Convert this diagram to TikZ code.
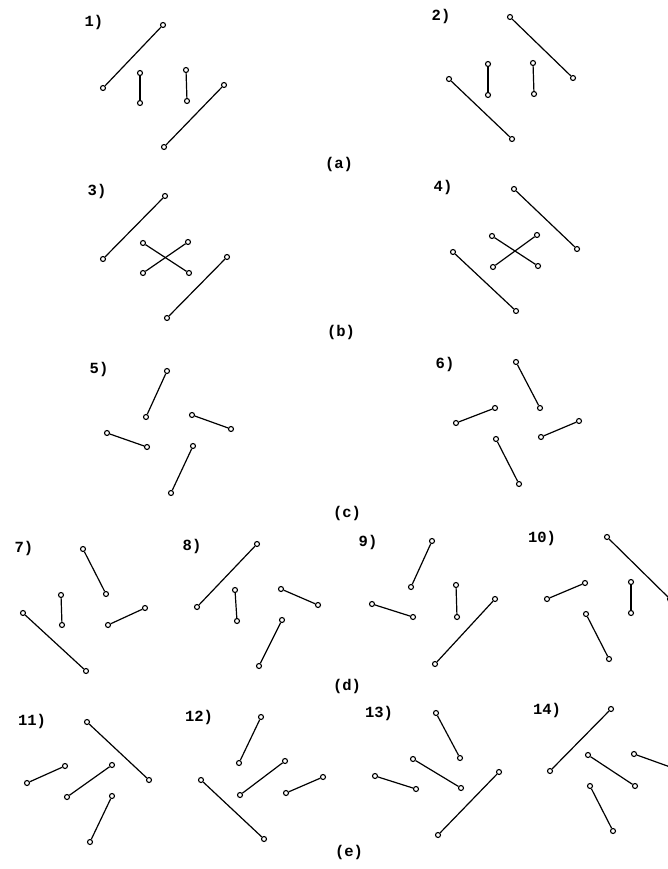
\documentclass[tikz,border=0pt]{standalone}
\usepackage{fontspec}
\newfontfamily\typefont{Liberation Mono}
\usepackage{tikz}

\begin{document}
\begin{tikzpicture}[x=1pt, y=-1pt,
    endpt/.style={draw, circle, fill=white, inner sep=0pt, minimum size=5pt, line width=1.1pt},
    stick/.style={line width=1.2pt},
    lbl/.style={font=\typefont\bfseries\fontsize{15.5}{18}\selectfont}]
        \useasboundingbox (0,0) rectangle (667,869);

        % Row (a)
        \node[lbl] (l1) at (94,22) {1)};
        \node[endpt] (p1a1) at (103,88) {}; \node[endpt] (p1a2) at (163,25) {}; \draw[stick] (p1a1) -- (p1a2);
        \node[endpt] (p1b1) at (140,73) {}; \node[endpt] (p1b2) at (140,103) {}; \draw[stick] (p1b1) -- (p1b2);
        \node[endpt] (p1c1) at (186,70) {}; \node[endpt] (p1c2) at (187,101) {}; \draw[stick] (p1c1) -- (p1c2);
        \node[endpt] (p1d1) at (164,147) {}; \node[endpt] (p1d2) at (224,85) {}; \draw[stick] (p1d1) -- (p1d2);

        \node[lbl] (l2) at (441,16) {2)};
        \node[endpt] (p2a1) at (510,17) {}; \node[endpt] (p2a2) at (573,78) {}; \draw[stick] (p2a1) -- (p2a2);
        \node[endpt] (p2b1) at (488,64) {}; \node[endpt] (p2b2) at (488,95) {}; \draw[stick] (p2b1) -- (p2b2);
        \node[endpt] (p2c1) at (533,63) {}; \node[endpt] (p2c2) at (534,94) {}; \draw[stick] (p2c1) -- (p2c2);
        \node[endpt] (p2d1) at (449,79) {}; \node[endpt] (p2d2) at (512,139) {}; \draw[stick] (p2d1) -- (p2d2);

        \node[lbl] (ra) at (339,164) {(a)};

        % Row (b)
        \node[lbl] (l3) at (97,191) {3)};
        \node[endpt] (p3a1) at (103,259) {}; \node[endpt] (p3a2) at (165,196) {}; \draw[stick] (p3a1) -- (p3a2);
        \node[endpt] (p3b1) at (143,243) {}; \node[endpt] (p3b2) at (189,273) {}; \draw[stick] (p3b1) -- (p3b2);
        \node[endpt] (p3c1) at (188,242) {}; \node[endpt] (p3c2) at (143,273) {}; \draw[stick] (p3c1) -- (p3c2);
        \node[endpt] (p3d1) at (167,318) {}; \node[endpt] (p3d2) at (227,257) {}; \draw[stick] (p3d1) -- (p3d2);

        \node[lbl] (l4) at (443,187) {4)};
        \node[endpt] (p4a1) at (514,189) {}; \node[endpt] (p4a2) at (577,249) {}; \draw[stick] (p4a1) -- (p4a2);
        \node[endpt] (p4b1) at (492,236) {}; \node[endpt] (p4b2) at (538,266) {}; \draw[stick] (p4b1) -- (p4b2);
        \node[endpt] (p4c1) at (537,235) {}; \node[endpt] (p4c2) at (493,267) {}; \draw[stick] (p4c1) -- (p4c2);
        \node[endpt] (p4d1) at (453,252) {}; \node[endpt] (p4d2) at (516,311) {}; \draw[stick] (p4d1) -- (p4d2);

        \node[lbl] (rb) at (341,332) {(b)};

        % Row (c)
        \node[lbl] (l5) at (99,369) {5)};
        \node[endpt] (p5a1) at (167,371) {}; \node[endpt] (p5a2) at (146,417) {}; \draw[stick] (p5a1) -- (p5a2);
        \node[endpt] (p5b1) at (192,415) {}; \node[endpt] (p5b2) at (231,429) {}; \draw[stick] (p5b1) -- (p5b2);
        \node[endpt] (p5c1) at (107,433) {}; \node[endpt] (p5c2) at (147,447) {}; \draw[stick] (p5c1) -- (p5c2);
        \node[endpt] (p5d1) at (193,446) {}; \node[endpt] (p5d2) at (171,493) {}; \draw[stick] (p5d1) -- (p5d2);

        \node[lbl] (l6) at (445,364) {6)};
        \node[endpt] (p6a1) at (516,362) {}; \node[endpt] (p6a2) at (540,408) {}; \draw[stick] (p6a1) -- (p6a2);
        \node[endpt] (p6b1) at (456,423) {}; \node[endpt] (p6b2) at (495,408) {}; \draw[stick] (p6b1) -- (p6b2);
        \node[endpt] (p6c1) at (496,439) {}; \node[endpt] (p6c2) at (519,484) {}; \draw[stick] (p6c1) -- (p6c2);
        \node[endpt] (p6d1) at (541,437) {}; \node[endpt] (p6d2) at (579,421) {}; \draw[stick] (p6d1) -- (p6d2);

        \node[lbl] (rc) at (347,513) {(c)};

        % Row (d)
        \node[lbl] (l7) at (24,548) {7)};
        \node[endpt] (p7a1) at (83,549) {}; \node[endpt] (p7a2) at (106,594) {}; \draw[stick] (p7a1) -- (p7a2);
        \node[endpt] (p7b1) at (61,595) {}; \node[endpt] (p7b2) at (62,625) {}; \draw[stick] (p7b1) -- (p7b2);
        \node[endpt] (p7c1) at (23,613) {}; \node[endpt] (p7c2) at (86,671) {}; \draw[stick] (p7c1) -- (p7c2);
        \node[endpt] (p7d1) at (108,625) {}; \node[endpt] (p7d2) at (145,608) {}; \draw[stick] (p7d1) -- (p7d2);

        \node[lbl] (l8) at (192,546) {8)};
        \node[endpt] (p8a1) at (197,607) {}; \node[endpt] (p8a2) at (257,544) {}; \draw[stick] (p8a1) -- (p8a2);
        \node[endpt] (p8b1) at (235,590) {}; \node[endpt] (p8b2) at (237,621) {}; \draw[stick] (p8b1) -- (p8b2);
        \node[endpt] (p8c1) at (281,589) {}; \node[endpt] (p8c2) at (318,605) {}; \draw[stick] (p8c1) -- (p8c2);
        \node[endpt] (p8d1) at (282,620) {}; \node[endpt] (p8d2) at (259,666) {}; \draw[stick] (p8d1) -- (p8d2);

        \node[lbl] (l9) at (368,542) {9)};
        \node[endpt] (p9a1) at (432,541) {}; \node[endpt] (p9a2) at (411,587) {}; \draw[stick] (p9a1) -- (p9a2);
        \node[endpt] (p9b1) at (372,604) {}; \node[endpt] (p9b2) at (413,617) {}; \draw[stick] (p9b1) -- (p9b2);
        \node[endpt] (p9c1) at (456,585) {}; \node[endpt] (p9c2) at (457,617) {}; \draw[stick] (p9c1) -- (p9c2);
        \node[endpt] (p9d1) at (495,599) {}; \node[endpt] (p9d2) at (435,664) {}; \draw[stick] (p9d1) -- (p9d2);

        \node[lbl] (l10) at (542,538) {10)};
        \node[endpt] (p10a1) at (607,537) {}; \node[endpt] (p10a2) at (670,599) {}; \draw[stick] (p10a1) -- (p10a2);
        \node[endpt] (p10b1) at (547,599) {}; \node[endpt] (p10b2) at (585,583) {}; \draw[stick] (p10b1) -- (p10b2);
        \node[endpt] (p10c1) at (631,582) {}; \node[endpt] (p10c2) at (631,613) {}; \draw[stick] (p10c1) -- (p10c2);
        \node[endpt] (p10d1) at (586,614) {}; \node[endpt] (p10d2) at (609,659) {}; \draw[stick] (p10d1) -- (p10d2);

        \node[lbl] (rd) at (347,686) {(d)};

        % Row (e)
        \node[lbl] (l11) at (32,721) {11)};
        \node[endpt] (p11a1) at (87,722) {}; \node[endpt] (p11a2) at (149,780) {}; \draw[stick] (p11a1) -- (p11a2);
        \node[endpt] (p11b1) at (27,783) {}; \node[endpt] (p11b2) at (65,766) {}; \draw[stick] (p11b1) -- (p11b2);
        \node[endpt] (p11c1) at (67,797) {}; \node[endpt] (p11c2) at (112,765) {}; \draw[stick] (p11c1) -- (p11c2);
        \node[endpt] (p11d1) at (112,796) {}; \node[endpt] (p11d2) at (90,842) {}; \draw[stick] (p11d1) -- (p11d2);

        \node[lbl] (l12) at (199,717) {12)};
        \node[endpt] (p12a1) at (261,717) {}; \node[endpt] (p12a2) at (239,763) {}; \draw[stick] (p12a1) -- (p12a2);
        \node[endpt] (p12b1) at (240,795) {}; \node[endpt] (p12b2) at (285,761) {}; \draw[stick] (p12b1) -- (p12b2);
        \node[endpt] (p12c1) at (286,793) {}; \node[endpt] (p12c2) at (323,777) {}; \draw[stick] (p12c1) -- (p12c2);
        \node[endpt] (p12d1) at (201,780) {}; \node[endpt] (p12d2) at (264,839) {}; \draw[stick] (p12d1) -- (p12d2);

        \node[lbl] (l13) at (379,713) {13)};
        \node[endpt] (p13a1) at (436,713) {}; \node[endpt] (p13a2) at (460,758) {}; \draw[stick] (p13a1) -- (p13a2);
        \node[endpt] (p13b1) at (413,759) {}; \node[endpt] (p13b2) at (461,788) {}; \draw[stick] (p13b1) -- (p13b2);
        \node[endpt] (p13c1) at (375,776) {}; \node[endpt] (p13c2) at (416,789) {}; \draw[stick] (p13c1) -- (p13c2);
        \node[endpt] (p13d1) at (499,772) {}; \node[endpt] (p13d2) at (438,835) {}; \draw[stick] (p13d1) -- (p13d2);

        \node[lbl] (l14) at (547,710) {14)};
        \node[endpt] (p14a1) at (550,771) {}; \node[endpt] (p14a2) at (611,709) {}; \draw[stick] (p14a1) -- (p14a2);
        \node[endpt] (p14b1) at (588,755) {}; \node[endpt] (p14b2) at (635,786) {}; \draw[stick] (p14b1) -- (p14b2);
        \node[endpt] (p14c1) at (634,754) {}; \node[endpt] (p14c2) at (673,768) {}; \draw[stick] (p14c1) -- (p14c2);
        \node[endpt] (p14d1) at (590,786) {}; \node[endpt] (p14d2) at (613,831) {}; \draw[stick] (p14d1) -- (p14d2);

        \node[lbl] (re) at (349,852) {(e)};
    \end{tikzpicture}
\end{document}
